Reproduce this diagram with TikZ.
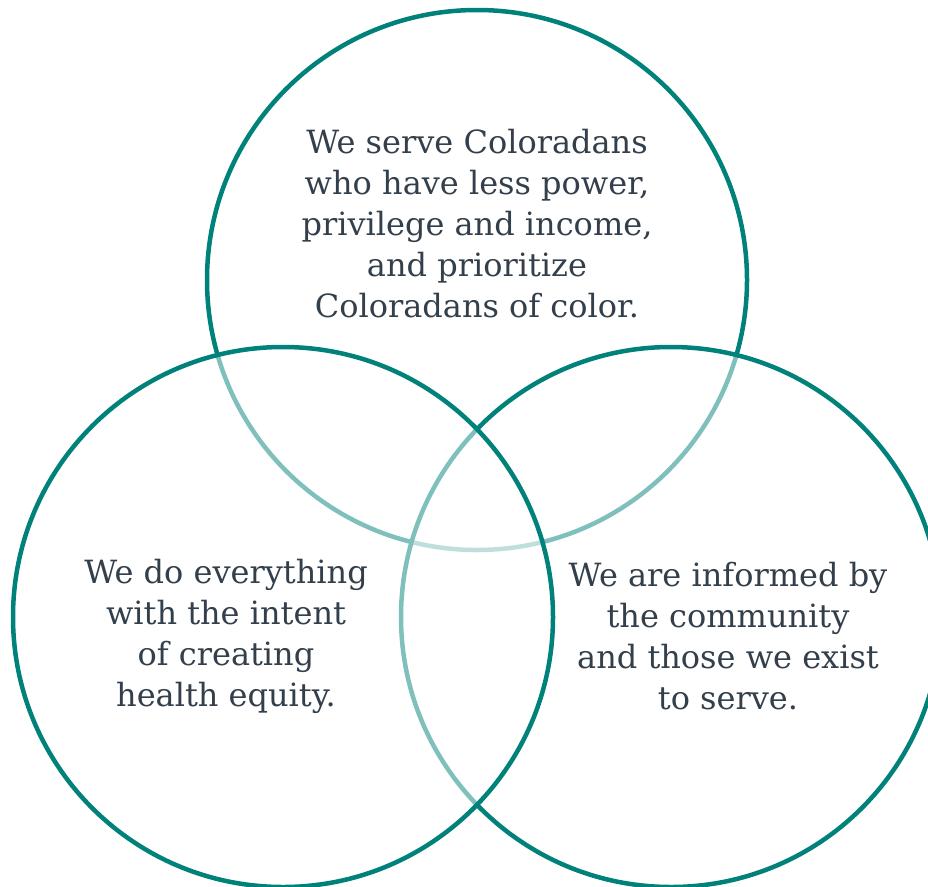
\documentclass[tikz,border=0pt]{standalone}
\usepackage{fontspec}
\setmainfont{DejaVu Serif}
\definecolor{teal1}{HTML}{00827A}
\definecolor{txt}{HTML}{333F4B}
\begin{document}
\begin{tikzpicture}[x=1pt,y=1pt,
  ring/.style={circle, draw=teal1, line width=4.5pt, minimum size=540pt, inner sep=0pt},
  veil/.style={fill=white, fill opacity=0.5},
  label/.style={align=center, text=txt, font=\fontsize{32}{41}\selectfont, inner sep=0pt}]
\useasboundingbox (0,0) rectangle (928,-886);
\node[ring] (top) at (477,-280) {};
\node[ring, veil] (right) at (671,-617) {};
\node[ring, veil] (left) at (283,-617) {};
\node[label] (ttop) at (477,-224) {We serve Coloradans\\who have less power,\\privilege and income,\\and prioritize\\Coloradans of color.};
\node[label] (tleft) at (226,-636) {We do everything\\with the intent\\of creating\\health equity.};
\node[label] (tright) at (728,-636) {We are informed by\\the community\\and those we exist\\to serve.};
\end{tikzpicture}
\end{document}
